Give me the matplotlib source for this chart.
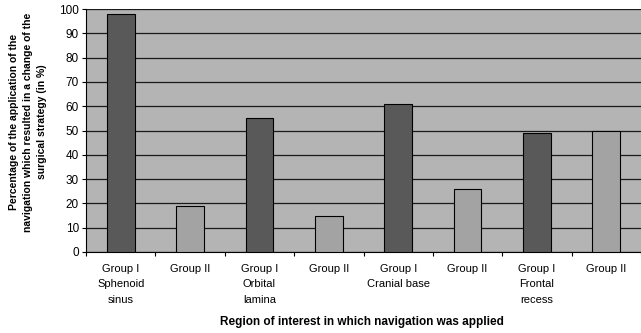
import numpy as np
import matplotlib
matplotlib.use('Agg')
import matplotlib.pyplot as plt

plt.rcParams['font.family'] = ['Liberation Sans', 'DejaVu Sans']

# bar data: alternating Group I / Group II for each region
categories = ['Group I\nSphenoid\nsinus', 'Group II', 'Group I\nOrbital\nlamina', 'Group II',
              'Group I\nCranial base', 'Group II', 'Group I\nFrontal\nrecess', 'Group II']
values = [98, 19, 55, 15, 61, 26, 49, 50]
groups = ['I', 'II', 'I', 'II', 'I', 'II', 'I', 'II']
y_ticks = list(range(0, 101, 10))

colors = {'I': '#595959', 'II': '#a3a3a3'}

W, H = 641, 333
fig = plt.figure(figsize=(W / 100, H / 100), dpi=100)
ax = fig.add_axes([86 / W, 1 - 252 / H, (641 - 86) / W, (252 - 9) / H])
ax.set_facecolor('#b4b4b4')

x = np.arange(len(values))
ax.bar(x, values, width=0.4, color=[colors[g] for g in groups],
       edgecolor='black', linewidth=0.8, zorder=3)

ax.set_ylim(0, 100)
ax.set_xlim(-0.5, 7.5 - 4.6 / 70)
ax.set_yticks(y_ticks)
ax.yaxis.grid(True, color='#1a1a1a', linewidth=0.9, zorder=1)
ax.set_axisbelow(True)

# category boundaries carry the tick marks, labels sit at centres
ax.set_xticks(np.arange(-0.5, 8, 1.0))
ax.set_xticklabels([])
ax.set_xticks(x, minor=True)
ax.set_xticklabels(categories, minor=True, fontsize=8, linespacing=1.7)
ax.tick_params(axis='x', which='minor', length=0, pad=8.5)
ax.tick_params(axis='x', which='major', length=3, width=0.8, direction='out')
ax.tick_params(axis='y', labelsize=8.5, length=3, width=0.8, pad=2)

for side in ['top', 'right']:
    ax.spines[side].set_visible(False)
ax.spines['left'].set_linewidth(0.8)
ax.spines['bottom'].set_linewidth(0.8)

fig.text(28 / W, 1 - 122 / H,
         'Percentage of the application of the\nnavigation which resulted in a change of the\nsurgical strategy (in %)',
         rotation=90, ha='center', va='center', fontsize=7.5, fontweight='bold', linespacing=1.5)
fig.text(362 / W, 1 - 322 / H, 'Region of interest in which navigation was applied',
         ha='center', va='center', fontsize=8.5, fontweight='bold')

fig.savefig('out.png', dpi=100)
